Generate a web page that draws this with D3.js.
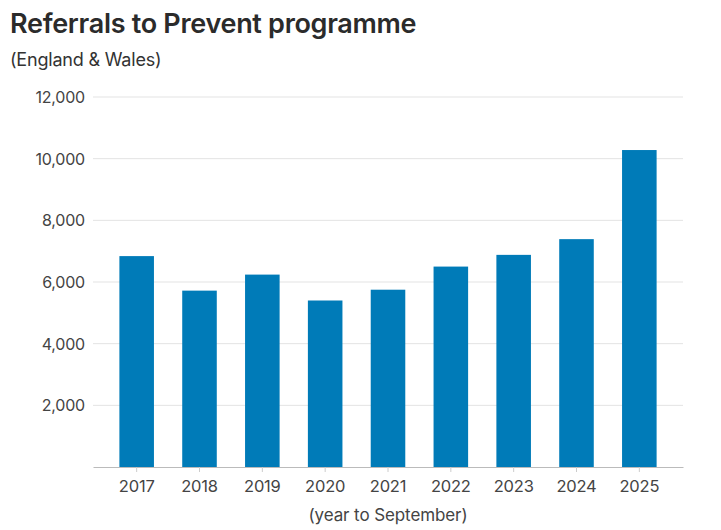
<!DOCTYPE html>
<html>
<head>
<meta charset="utf-8">
<script src="https://cdn.jsdelivr.net/npm/d3@7"></script>
<style>
  body { margin: 0; background: #fff; }
  text { font-family: Inter, "Noto Sans", sans-serif; }
</style>
</head>
<body>
<script>
// data
const years = ["2017", "2018", "2019", "2020", "2021", "2022", "2023", "2024", "2025"];
const referrals = [6840, 5720, 6240, 5400, 5750, 6500, 6880, 7390, 10280];
const yTicks = [2000, 4000, 6000, 8000, 10000, 12000];

const width = 721, height = 530;
const margin = { top: 97, right: 38, bottom: 63, left: 93 };

const svg = d3.select("body").append("svg")
  .attr("width", width)
  .attr("height", height);

const x = d3.scaleBand()
  .domain(years)
  .range([margin.left, width - margin.right])
  .paddingInner(0.45)
  .paddingOuter(0.42);

const y = d3.scaleLinear()
  .domain([0, 12000])
  .range([height - margin.bottom, margin.top]);

// title
svg.append("text")
  .attr("x", 10).attr("y", 33)
  .style("font-size", "27px").style("font-weight", 600)
  .style("fill", "#2b2b2b").style("letter-spacing", "-0.3px")
  .text("Referrals to Prevent programme");

svg.append("text")
  .attr("x", 10).attr("y", 66)
  .style("font-size", "18px").style("fill", "#333")
  .style("letter-spacing", "-0.2px")
  .text("(England & Wales)");

// grid
svg.append("g")
  .selectAll("line")
  .data(yTicks)
  .join("line")
  .attr("x1", margin.left).attr("x2", width - margin.right)
  .attr("y1", d => y(d)).attr("y2", d => y(d))
  .attr("stroke", "#e3e3e3");

// y labels
svg.append("g")
  .selectAll("text")
  .data(yTicks)
  .join("text")
  .attr("x", 85).attr("y", d => y(d))
  .attr("text-anchor", "end")
  .attr("dominant-baseline", "central")
  .style("font-size", "16px").style("fill", "#444")
  .style("letter-spacing", "-0.2px")
  .text(d => d3.format(",")(d));

// bars
svg.append("g")
  .selectAll("rect")
  .data(years)
  .join("rect")
  .attr("x", d => x(d))
  .attr("width", x.bandwidth())
  .attr("y", (d, i) => y(referrals[i]))
  .attr("height", (d, i) => y(0) - y(referrals[i]))
  .attr("fill", "#007bb8");

// x axis
const xAxis = svg.append("g")
  .attr("transform", `translate(0,${y(0)})`)
  .call(d3.axisBottom(x).tickSize(5).tickPadding(8).tickSizeOuter(0));
xAxis.select(".domain").attr("stroke", "#bbb");
xAxis.selectAll(".tick line").attr("stroke", "#ccc");
xAxis.selectAll(".tick text")
  .style("font-size", "16.5px").style("fill", "#444")
  .style("font-family", "Inter, sans-serif")
  .style("letter-spacing", "-0.2px");

svg.append("text")
  .attr("x", (x.range()[0] + x.range()[1]) / 2).attr("y", 521)
  .attr("text-anchor", "middle")
  .style("font-size", "17px").style("fill", "#444")
  .style("letter-spacing", "-0.1px")
  .text("(year to September)");
</script>
</body>
</html>
